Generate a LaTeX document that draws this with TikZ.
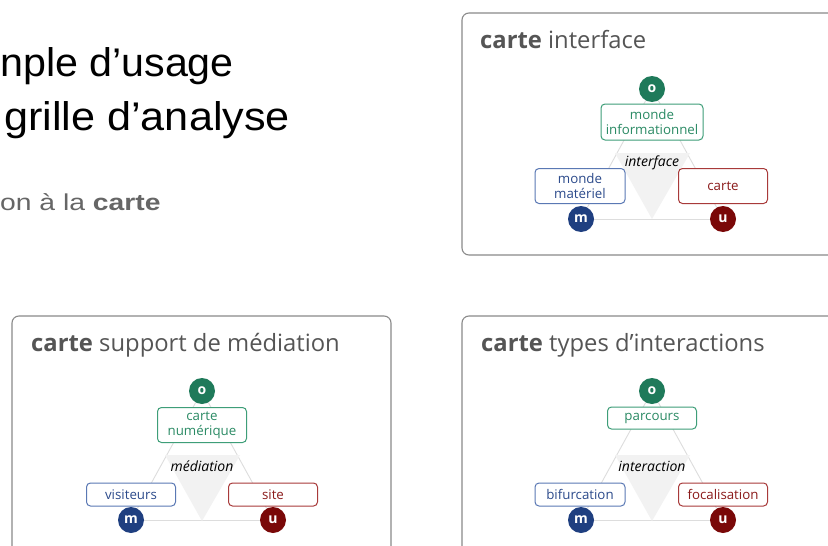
\documentclass[tikz,border=0pt]{standalone}
\usepackage{fontspec}
\setmainfont{Liberation Sans}
\newfontfamily\headfont[FakeStretch=1.08]{Liberation Sans}
\newfontfamily\headfontA[FakeStretch=1.03]{Liberation Sans}
\newfontfamily\subfont[FakeStretch=1.23]{Liberation Sans}
\newfontfamily\plex{Open Sans}
\usetikzlibrary{backgrounds}
\definecolor{panelgray}{HTML}{8A8A8A}
\definecolor{titlegray}{HTML}{555555}
\definecolor{subgray}{HTML}{666666}
\definecolor{gtext}{HTML}{2A8A64}
\definecolor{gline}{HTML}{3E9E78}
\definecolor{gfill}{HTML}{1F7A5A}
\definecolor{btext}{HTML}{2B4A8B}
\definecolor{bline}{HTML}{5A78B4}
\definecolor{bfill}{HTML}{1F3F80}
\definecolor{rtext}{HTML}{8B1A1A}
\definecolor{rline}{HTML}{A83A3A}
\definecolor{rfill}{HTML}{7A0808}
\definecolor{triline}{HTML}{DDDDDD}
\definecolor{trifill}{HTML}{F2F2F2}
\tikzset{
  panel/.style={draw=panelgray, line width=1.1pt, rounded corners=7pt},
  ptitle/.style={anchor=base west, inner sep=0, text=titlegray, font=\plex\fontsize{23.8}{26}\selectfont},
  lbl/.style={draw, fill=white, rounded corners=4pt, line width=1pt, align=center, inner sep=0,
    font=\plex\fontsize{13.3}{15.5}\selectfont},
  gbox/.style={lbl, draw=gline, text=gtext},
  bbox/.style={lbl, draw=bline, text=btext},
  rbox/.style={lbl, draw=rline, text=rtext},
  dot/.style={circle, minimum size=26pt, inner sep=0, text=white, font=\plex\bfseries\fontsize{14}{16}\selectfont},
  odot/.style={dot, fill=gfill},
  mdot/.style={dot, fill=bfill},
  udot/.style={dot, fill=rfill},
  midtxt/.style={inner sep=0, font=\plex\itshape\fontsize{14}{16}\selectfont},
  triedge/.style={draw=triline, line width=0.9pt},
  inner/.style={fill=trifill},
}
\begin{document}
\begin{tikzpicture}[x=1pt, y=-1pt]
\useasboundingbox (0,0) rectangle (828,546);
\clip (0,0) rectangle (828,546);

% left heading
\node[anchor=base west, inner sep=0, font=\headfontA\fontsize{40}{48}\selectfont] (head1) at (0,76) {nple d’usage};
\node[anchor=base west, inner sep=0, font=\headfont\fontsize{40}{48}\selectfont] (head2) at (4,130) {grille d’analyse};
\node[anchor=base west, inner sep=0, text=subgray, font=\subfont\fontsize{23}{26}\selectfont] (head3) at (0,210) {on à la \textbf{carte}};

% panels
\draw[panel] (462,13) rectangle (850,255);
\draw[panel] (12,316) rectangle (391,570);
\draw[panel] (462,316) rectangle (850,570);

% panel 1
\node[ptitle] (h1) at (480,48) {\textbf{carte} interface};
\node[gbox, minimum width=102pt, minimum height=36pt] (i1) at (652,122) {monde\\informationnel};
\node[bbox, minimum width=90pt, minimum height=35pt] (a1) at (580,186) {monde\\matériel};
\node[rbox, minimum width=89pt, minimum height=35pt] (c1) at (723,186) {carte};
\node[midtxt] (t1) at (652,163) {interface};
\node[odot] (o1) at (652,89) {o};
\node[mdot] (m1) at (581,219) {m};
\node[udot] (u1) at (723,219) {u};

% panel 2
\node[ptitle] (h2) at (31,351) {\textbf{carte} support de médiation};
\node[gbox, minimum width=89pt, minimum height=35pt] (i2) at (202,425) {carte\\numérique};
\node[bbox, minimum width=89pt, minimum height=23pt] (a2) at (131,494.5) {visiteurs};
\node[rbox, minimum width=89pt, minimum height=23pt] (c2) at (273,494.5) {site};
\node[midtxt] (t2) at (202,466) {médiation};
\node[odot] (o2) at (202,391) {o};
\node[mdot] (m2) at (131,520) {m};
\node[udot] (u2) at (273,520) {u};

% panel 3
\node[ptitle] (h3) at (481,351) {\textbf{carte} types d’interactions};
\node[gbox, minimum width=89pt, minimum height=22pt] (i3) at (652,418) {parcours};
\node[bbox, minimum width=90pt, minimum height=23pt] (a3) at (580,494.5) {bifurcation};
\node[rbox, minimum width=89pt, minimum height=23pt] (c3) at (723,494.5) {focalisation};
\node[midtxt] (t3) at (652,466) {interaction};
\node[odot] (o3) at (652,391) {o};
\node[mdot] (m3) at (581,520) {m};
\node[udot] (u3) at (723,520) {u};

\begin{pgfonlayer}{background}
  \fill[white] (0,0) rectangle (828,546);
  \draw[triedge] (o1) -- (m1);
  \draw[triedge] (m1) -- (u1);
  \draw[triedge] (u1) -- (o1);
  \fill[inner] (615,153) -- (690,153) -- (652,219) -- cycle;
  \draw[triedge] (o2) -- (m2);
  \draw[triedge] (m2) -- (u2);
  \draw[triedge] (u2) -- (o2);
  \fill[inner] (165,455) -- (240,455) -- (202,521) -- cycle;
  \draw[triedge] (o3) -- (m3);
  \draw[triedge] (m3) -- (u3);
  \draw[triedge] (u3) -- (o3);
  \fill[inner] (615,455) -- (690,455) -- (652,521) -- cycle;
\end{pgfonlayer}
\end{tikzpicture}
\end{document}
